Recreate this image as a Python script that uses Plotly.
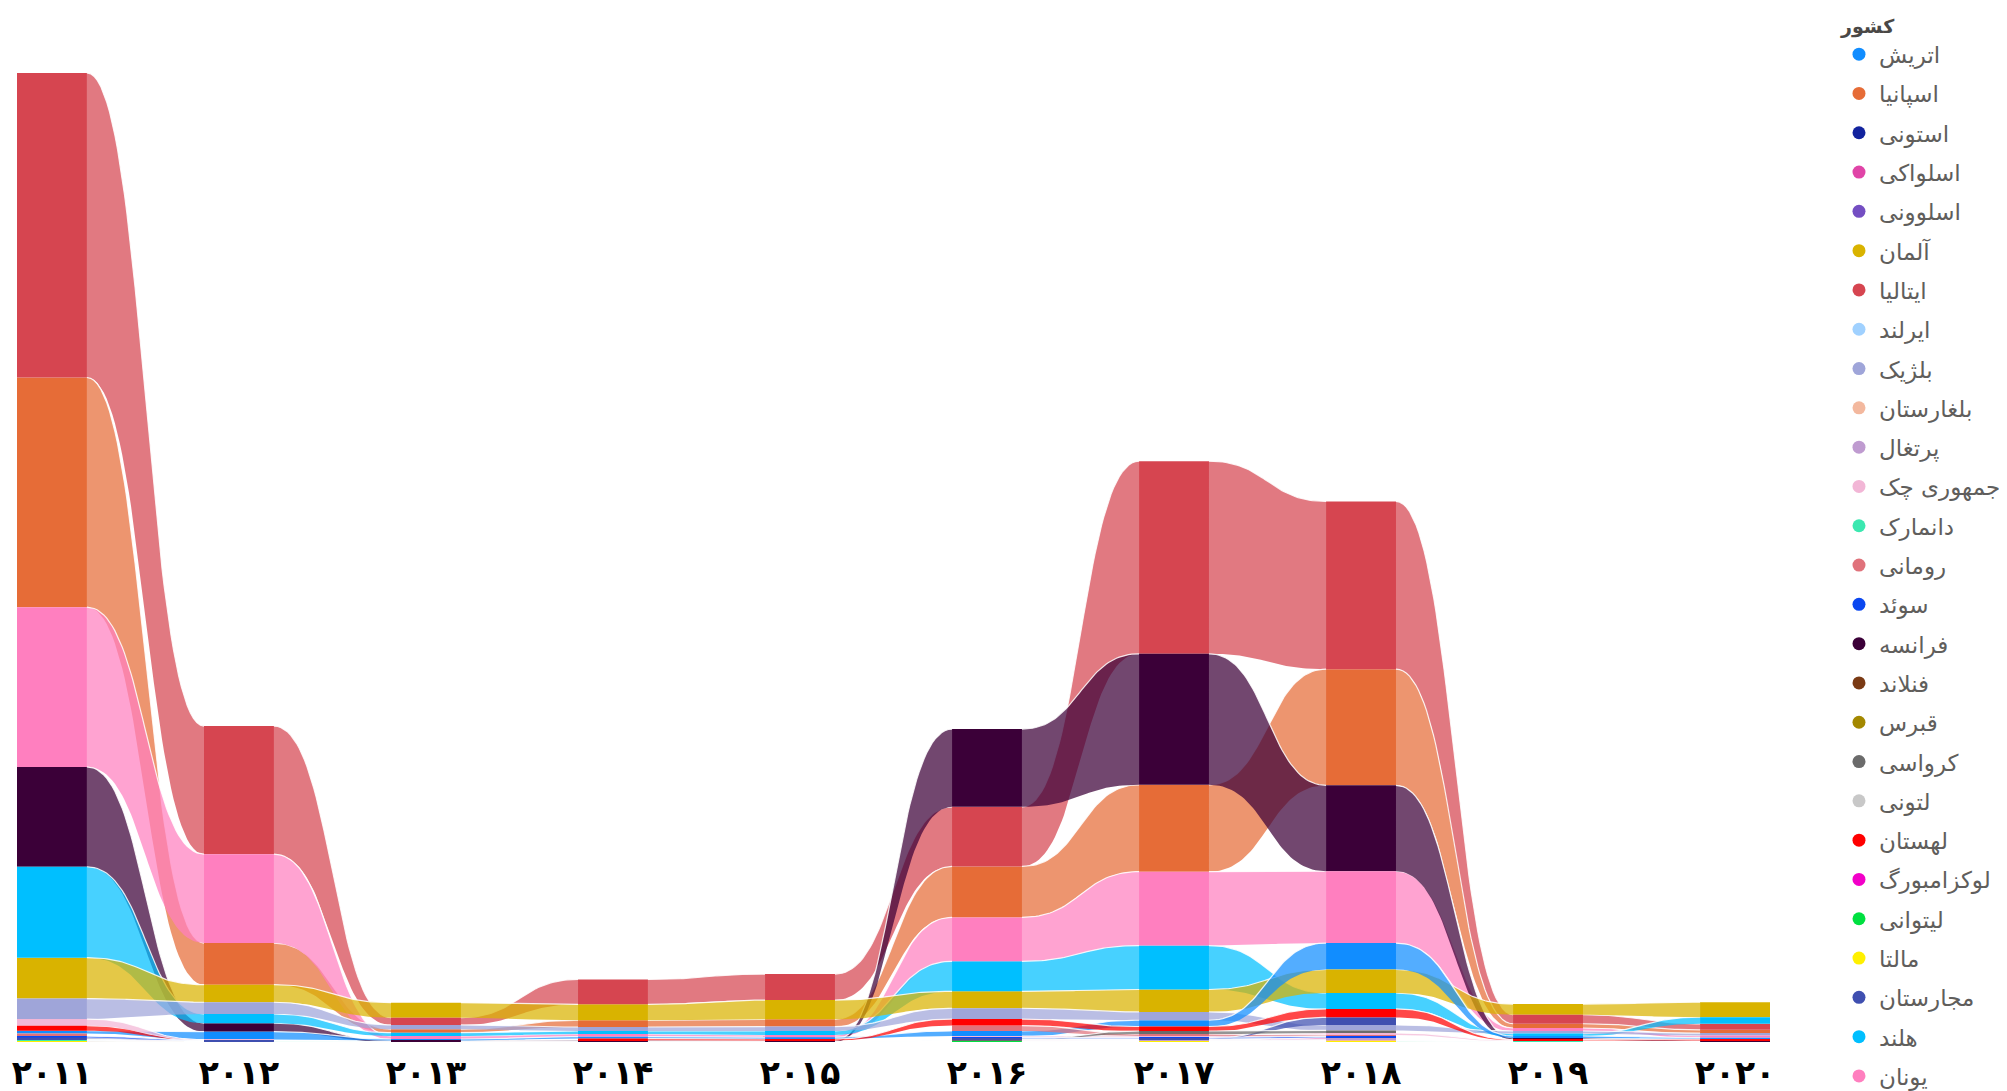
import numpy as np
import plotly.graph_objects as go

# ---------------- data ----------------
years = [2011, 2012, 2013, 2014, 2015, 2016, 2017, 2018, 2019, 2020]
year_labels = ["۲۰۱۱", "۲۰۱۲", "۲۰۱۳", "۲۰۱۴", "۲۰۱۵", "۲۰۱۶", "۲۰۱۷", "۲۰۱۸", "۲۰۱۹", "۲۰۲۰"]

countries = ["اتریش", "اسپانیا", "استونی", "اسلواکی", "اسلوونی", "آلمان", "ایتالیا",
             "ایرلند", "بلژیک", "بلغارستان", "پرتغال", "جمهوری چک", "دانمارک", "رومانی",
             "سوئد", "فرانسه", "فنلاند", "قبرس", "کرواسی", "لتونی", "لهستان", "لوکزامبورگ",
             "لیتوانی", "مالتا", "مجارستان", "هلند", "یونان"]

colors = ["#118DFF", "#E66C37", "#12239E", "#E044A7", "#744EC2", "#D9B300", "#D64550",
          "#A0D1FF", "#9FA5D9", "#F3B89E", "#BF9BD0", "#F2B6D6", "#3BE8B0", "#E0727B",
          "#0A47F0", "#3B0038", "#7A3A14", "#A38800", "#6B6B6B", "#C8C8C8", "#FF0000",
          "#F200C8", "#00E040", "#FFF000", "#3F4FB0", "#00BFFF", "#FF7FBF"]

# estimated values per country, 2011..2020
austria     = [2.7, 8.0, 1.5, 2.0, 1.8, 5.0, 6.3, 26.5, 2.0, 1.5]
spain       = [230, 41.7, 3.5, 6.7, 7.3, 51.0, 87.0, 116.3, 4.3, 3.3]
estonia     = [0.1, 0, 0, 0, 0, 0.1, 0.1, 0.1, 0, 0]
slovakia    = [0.2, 0, 0, 0, 0, 0.3, 0.3, 1.0, 0, 0]
slovenia    = [0.3, 0.2, 0, 0, 0, 0.3, 0.3, 0.5, 0, 0]
germany     = [41.0, 17.6, 15.0, 16.0, 19.3, 17.0, 22.5, 23.5, 10.7, 15.0]
italy       = [305, 128.3, 7.3, 25.0, 26.0, 59.7, 192.9, 168.0, 9.0, 6.0]
ireland     = [0.3, 0.2, 0.2, 0.2, 0.2, 0.3, 0.3, 0.3, 0.2, 0.2]
belgium     = [20.5, 11.7, 4.3, 4.0, 4.3, 10.8, 8.3, 5.5, 2.6, 2.5]
bulgaria    = [0.5, 0.2, 0, 0, 0, 0.5, 0.5, 0.3, 0.3, 0.2]
portugal    = [0.5, 0, 0, 0, 0, 0.3, 0.5, 1.0, 0, 0]
czechia     = [6.7, 0.5, 0, 0, 0, 1.5, 1.5, 2.0, 0.9, 0]
denmark     = [0.3, 0.1, 0.1, 0.1, 0.1, 0.2, 0.2, 0.2, 0.1, 0.1]
romania     = [2.7, 0, 0, 0, 0, 5.5, 2.0, 1.5, 0, 0]
sweden      = [1.5, 0.3, 0, 0, 0, 1.0, 1.0, 1.5, 0, 0]
france      = [100, 8.4, 1.2, 1.5, 1.3, 77.9, 131.2, 86.0, 1.5, 1.1]
finland     = [0.2, 0.1, 0, 0, 0, 0.1, 0.2, 0.2, 0, 0]
cyprus      = [0.1, 0, 0, 0, 0, 0.1, 0.1, 0.1, 0, 0]
croatia     = [0, 0, 0, 0, 0, 0.5, 3.0, 2.5, 0, 0]
latvia      = [0.1, 0, 0, 0, 0, 0.1, 0.1, 0.1, 0, 0]
poland      = [5.0, 0.5, 0, 1.6, 1.4, 6.5, 4.5, 8.5, 1.0, 1.3]
luxembourg  = [0.1, 0, 0, 0, 0, 0, 0.1, 0.1, 0, 0]
lithuania   = [0.1, 0, 0, 0, 0, 0.1, 0.1, 0.1, 0, 0]
malta       = [0.1, 0, 0, 0, 0, 0, 0.1, 0.1, 0, 0]
hungary     = [1.5, 0.3, 0, 0, 0, 0.6, 0.6, 7.5, 0, 0]
netherlands = [91.0, 9.3, 3.3, 3.0, 4.0, 30.0, 44.0, 16.0, 2.4, 6.7]
greece      = [160, 89.0, 3.0, 2.6, 2.3, 44.0, 74.0, 72.0, 3.0, 2.0]

series = [austria, spain, estonia, slovakia, slovenia, germany, italy, ireland, belgium,
          bulgaria, portugal, czechia, denmark, romania, sweden, france, finland, cyprus,
          croatia, latvia, poland, luxembourg, lithuania, malta, hungary, netherlands, greece]

# ---------------- layout of the ribbons ----------------
vals = np.array(series, dtype=float)
C, N = vals.shape
bases = np.zeros_like(vals)
for j in range(N):
    order = sorted(range(C), key=lambda i: (vals[i, j], -i))  # smallest at the bottom
    cum = 0.0
    for i in order:
        bases[i, j] = cum
        cum += vals[i, j]
max_total = vals.sum(axis=0).max()

BAR_W = 0.374
HALF = BAR_W / 2
ALPHA = 0.72
t = np.linspace(0, 1, 48)
s = 3 * t**2 - 2 * t**3


def rgba(hexc, a):
    h = hexc.lstrip("#")
    r, g, b = int(h[0:2], 16), int(h[2:4], 16), int(h[4:6], 16)
    return f"rgba({r},{g},{b},{a})"


fig = go.Figure()

# nodes (columns)
for i in range(C):
    fig.add_trace(go.Bar(
        x=years, y=vals[i], base=bases[i], width=BAR_W,
        marker=dict(color=colors[i], line=dict(width=0)),
        showlegend=False, hoverinfo="skip"))

# ribbons: largest overall drawn first
draw_order = sorted(range(C), key=lambda i: -vals[i].sum())
for i in draw_order:
    xs, ys, ex, ey = [], [], [], []
    for j in range(N - 1):
        if vals[i, j] <= 0 or vals[i, j + 1] <= 0:
            continue
        x0 = years[j] + HALF
        x1 = years[j + 1] - HALF
        xm = (x0 + x1) / 2
        bx = (1 - t)**3 * x0 + 3 * (1 - t)**2 * t * xm + 3 * (1 - t) * t**2 * xm + t**3 * x1
        b0, b1 = bases[i, j], bases[i, j + 1]
        t0, t1 = b0 + vals[i, j], b1 + vals[i, j + 1]
        top = t0 + (t1 - t0) * s
        bot = b0 + (b1 - b0) * s
        xs += list(bx) + list(bx[::-1]) + [None]
        ys += list(top) + list(bot[::-1]) + [None]
        ex += list(bx) + [None]
        ey += list(top) + [None]
    if not xs:
        continue
    fig.add_trace(go.Scatter(
        x=xs, y=ys, mode="lines", fill="toself",
        fillcolor=rgba(colors[i], ALPHA), line=dict(width=0),
        showlegend=False, hoverinfo="skip"))
    fig.add_trace(go.Scatter(
        x=ex, y=ey, mode="lines", line=dict(width=1.2, color="rgba(255,255,255,0.85)"),
        showlegend=False, hoverinfo="skip"))

# legend entries
for i in range(C):
    fig.add_trace(go.Scatter(
        x=[None], y=[None], mode="markers", name=countries[i], legendgroup=countries[i],
        marker=dict(size=13, color=colors[i]), showlegend=True))

fig.update_layout(
    width=2007, height=1091,
    margin=dict(l=9, r=245, t=65, b=57.3, autoexpand=False),
    paper_bgcolor="white", plot_bgcolor="white",
    barmode="overlay",
    xaxis=dict(range=[years[0] - HALF, years[-1] + HALF], tickvals=years, ticktext=year_labels,
               tickfont=dict(size=33, color="black", family="DejaVu Sans", weight="bold"),
               ticklabelstandoff=8,
               showgrid=False, zeroline=False, showline=False, ticks="", automargin=False),
    yaxis=dict(range=[0, max_total], visible=False, showgrid=False, zeroline=False),
    legend=dict(xref="container", yref="container", x=0.9123, xanchor="left",
                y=1.0, yanchor="top", maxheight=1300,
                font=dict(size=23, color="#605E5C", family="DejaVu Sans"),
                title=dict(text="<b>کشور</b>", font=dict(size=19, color="#4A4846", family="DejaVu Sans")),
                traceorder="grouped", tracegroupgap=6.4, bgcolor="rgba(0,0,0,0)"),
    font=dict(family="DejaVu Sans"),
)

fig.write_html("out.html")
